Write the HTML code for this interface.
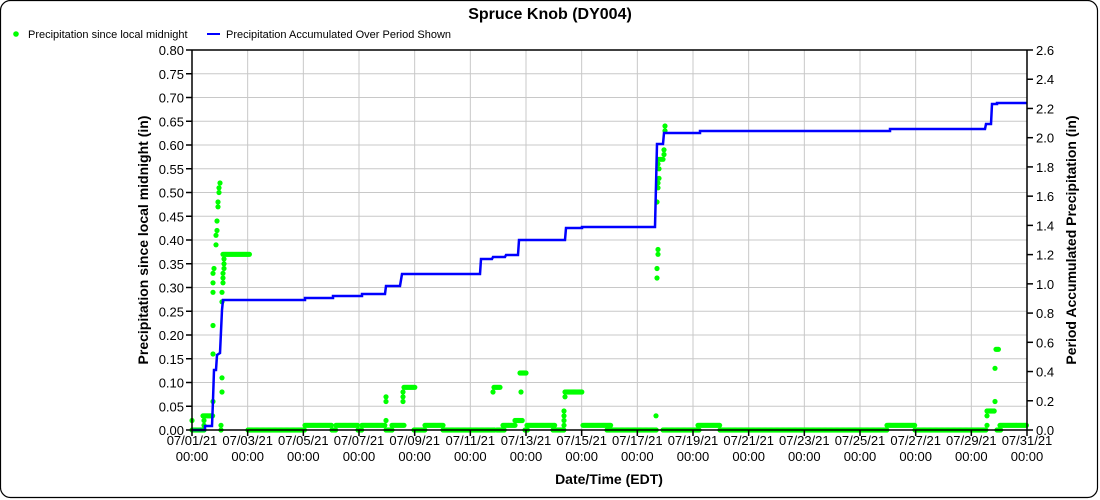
<!DOCTYPE html>
<html><head><meta charset="utf-8"><style>
html,body{margin:0;padding:0;background:#fff;}
svg{display:block;font-family:"Liberation Sans",Arial,sans-serif;}
</style></head><body>
<svg id="s" width="1100" height="500" xmlns="http://www.w3.org/2000/svg">
<rect x="0.5" y="0.5" width="1097" height="497" rx="10" fill="#fff" stroke="#000" stroke-width="1.2"/>
<text x="550" y="19" text-anchor="middle" font-size="16" font-weight="bold">Spruce Knob (DY004)</text>
<circle cx="16" cy="34" r="2.8" fill="#00ff00"/>
<text x="28" y="38" font-size="11">Precipitation since local midnight</text>
<line x1="207" y1="34" x2="220" y2="34" stroke="#0000ff" stroke-width="2"/>
<text x="226" y="38" font-size="11">Precipitation Accumulated Over Period Shown</text>
<g id="grid" stroke="#c8c8c8" stroke-width="1"></g>
<g id="data"></g>
<g id="axes" stroke="#000" stroke-width="1.5"></g>
<g id="lab" font-size="13"></g>
<text transform="translate(148,240) rotate(-90)" text-anchor="middle" font-size="14" font-weight="bold">Precipitation since local midnight (in)</text>
<text transform="translate(1076,240) rotate(-90)" text-anchor="middle" font-size="14" font-weight="bold">Period Accumulated Precipitation (in)</text>
<text x="609" y="484" text-anchor="middle" font-size="14" font-weight="bold">Date/Time (EDT)</text>
</svg>
<script>
const NS="http://www.w3.org/2000/svg";
function el(p,t,a,txt){const e=document.createElementNS(NS,t);for(const k in a)e.setAttribute(k,a[k]);if(txt!==undefined)e.textContent=txt;document.getElementById(p).appendChild(e);return e;}
const L=192,R=1027,T=50,B=430,pd=(R-L)/30;
for(let i=0;i<=16;i++){const y=B-i*(B-T)/16;el('grid','line',{x1:L,x2:R,y1:y,y2:y});
 el('axes','line',{x1:L-6,x2:L,y1:y,y2:y});
 el('lab','text',{x:L-8,y:y+5,'text-anchor':'end'},(i*0.05).toFixed(2));}
for(let i=0;i<=13;i++){const y=B-i*(B-T)/13;el('axes','line',{x1:R,x2:R+6,y1:y,y2:y});
 el('lab','text',{x:R+9,y:y+5},(i*0.2).toFixed(1));}
for(let d=0;d<=30;d+=2){const x=L+d*pd;el('grid','line',{x1:x,x2:x,y1:T,y2:B});
 el('axes','line',{x1:x,x2:x,y1:B,y2:B+6});
 const dd=String(d+1).padStart(2,'0');
 el('lab','text',{x:x,y:B+15,'text-anchor':'middle'},'07/'+dd+'/21');
 el('lab','text',{x:x,y:B+31,'text-anchor':'middle'},'00:00');}
el('axes','line',{x1:L,x2:L,y1:T,y2:B});el('axes','line',{x1:R,x2:R,y1:T,y2:B});
el('axes','line',{x1:L,x2:R,y1:T,y2:T});el('axes','line',{x1:L,x2:R,y1:B,y2:B});
const yv=v=>B-v*(B-T)/0.8;
const segs=[[192,204,0],[203,213,0.03],[223,250,0.37],[248,305,0],[305,332,0.01],[332,336,0],[336,358,0.01],[358,362,0],[362,385,0.01],[386,393,0],[392,405,0.01],[404,415,0.09],[414,425,0],[425,443,0.01],[443,495,0],[494,500,0.09],[497,505,0],[503,516,0.01],[515,523,0.02],[520,527,0.12],[525,528,0],[527,555,0.01],[553,565,0],[565,583,0.08],[583,611,0.01],[607,657,0],[663,700,0],[698,720,0.01],[720,887,0],[887,915,0.01],[915,986,0],[987,995,0.04],[996,999,0.17],[997,1001,0],[1000,1027,0.01]];
const pts=[[192,0.02],[204,0.01],[204,0.02],[213,0.06],[213,0.16],[213,0.22],[213,0.29],[213,0.31],[213,0.33],[214,0.34],[216,0.39],[216,0.41],[217,0.42],[217,0.44],[218,0.47],[218,0.48],[219,0.5],[219,0.51],[220,0.52],[221,0],[221,0.01],[222,0.08],[222,0.11],[222,0.27],[222,0.29],[223,0.31],[223,0.32],[223,0.33],[224,0.34],[224,0.35],[224,0.36],
[386,0.02],[386,0.06],[386,0.07],[403,0.06],[403,0.07],[403,0.08],[493,0.08],[521,0.08],[564,0.01],[564,0.02],[564,0.03],[564,0.04],[565,0.07],[656,0.03],
[657,0.32],[657,0.34],[658,0.37],[658,0.38],[657,0.48],[658,0.51],[658,0.52],[659,0.53],[659,0.55],[658,0.56],[659,0.57],[661,0.57],[663,0.57],[664,0.58],[664,0.59],[665,0.63],[665,0.64],
[987,0.01],[987,0.03],[995,0.06],[995,0.13]];
let h='';
for(const s of segs){for(let x=s[0];x<=s[1];x+=1.2)h+=`<circle cx="${x.toFixed(1)}" cy="${yv(s[2]).toFixed(1)}" r="2.6"/>`;}
for(const p of pts)h+=`<circle cx="${p[0]}" cy="${yv(p[1]).toFixed(1)}" r="2.6"/>`;
const g=document.getElementById('data');
g.innerHTML='<g fill="#00ff00">'+h+'</g>';
const bl=[[192,430],[205,430],[205,426],[212,426],[213,400],[214,370],[216,370],[217,355],[220,353],[222,310],[223,300],[305,300],[305,298],[333,298],[333,296],[362,296],[362,294],[385,294],[386,286],[400,286],[402,274],[480,274],[481,259],[492,259],[493,257],[505,257],[506,255],[518,255],[519,240],[565,240],[566,228],[582,228],[582,227],[655,227],[657,144],[663,144],[664,133],[700,133],[700,131],[890,131],[890,129],[985,129],[986,124],[991,124],[992,104],[997,104],[997,103],[1027,103]];
g.innerHTML+='<polyline fill="none" stroke="#0000ff" stroke-width="2.5" points="'+bl.map(p=>p.join(',')).join(' ')+'"/>';
</script>
</body></html>
